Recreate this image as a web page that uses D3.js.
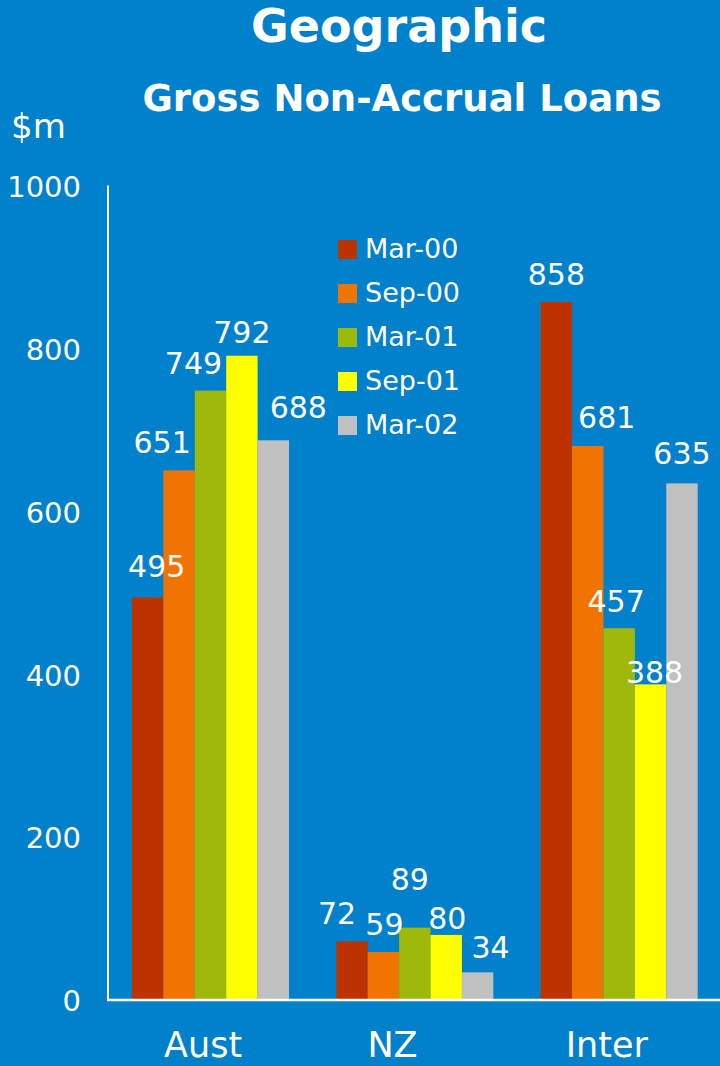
<!DOCTYPE html>
<html>
<head>
<meta charset="utf-8">
<script src="https://cdn.jsdelivr.net/npm/d3@7"></script>
<style>
  html, body { margin: 0; padding: 0; background: #0180CC; }
  svg { display: block; }
  text { font-family: "DejaVu Sans", Verdana, sans-serif; fill: #ffffff; }
</style>
</head>
<body>
<svg id="chart" width="720" height="1066"></svg>
<script>
// Gross non-accrual loans by region ($m)
const regions = ["Aust", "NZ", "Inter"];
const periods = ["Mar-00", "Sep-00", "Mar-01", "Sep-01", "Mar-02"];
const mar00 = [495, 72, 858];
const sep00 = [651, 59, 681];
const mar01 = [749, 89, 457];
const sep01 = [792, 80, 388];
const mar02 = [688, 34, 635];
const yTicks = [0, 200, 400, 600, 800, 1000];

const seriesValues = [mar00, sep00, mar01, sep01, mar02];
const colors = ["#BD3300", "#F27400", "#9EB80C", "#FFFF00", "#C0C0C0"];

// hand-placed value label offsets [dx, lift above bar top], by period then region
const labelNudge = [
  [[9, 20], [-15, 17], [0, 17]],
  [[-17, 17], [1, 17], [19, 18]],
  [[-17, 17], [-5, 38], [-3, 16]],
  [[0, 13], [1, 6], [4, 1]],
  [[25, 22], [13, 14], [0, 19]]
];
const categoryNudge = [-6, -21, -11];

const svg = d3.select("#chart");
const W = 720, H = 1066;
const plotLeft = 108, plotRight = 720, plotTop = 186.5, plotBottom = 1000;

svg.append("rect").attr("width", W).attr("height", H).attr("fill", "#0180CC");

const x0 = d3.scaleBand().domain(regions).range([plotLeft - 1, plotRight]).padding(0);
const x1 = d3.scaleBand().domain(periods).range([25, 182]).padding(0);
const y = d3.scaleLinear().domain([0, 1000]).range([plotBottom, plotTop]);

// titles
svg.append("text").attr("x", 399).attr("y", 42).attr("text-anchor", "middle")
  .attr("font-size", 46).attr("font-weight", "bold").text("Geographic");
svg.append("text").attr("x", 402).attr("y", 111).attr("text-anchor", "middle")
  .attr("font-size", 37).attr("font-weight", "bold").text("Gross Non-Accrual Loans");
svg.append("text").attr("x", 11).attr("y", 138).attr("font-size", 34).text("$m");

// y axis: labels only, plus a plain white line
const yAxis = d3.axisLeft(y).tickValues(yTicks).tickFormat(d3.format("d"))
  .tickSize(0).tickPadding(27);
const gy = svg.append("g").attr("transform", `translate(${plotLeft},0)`).call(yAxis);
gy.select(".domain").remove();
gy.selectAll("text").attr("font-size", 29).attr("fill", "#fff")
  .attr("font-family", "DejaVu Sans, Verdana, sans-serif").attr("dy", "0.36em");
svg.append("line").attr("x1", plotLeft).attr("x2", plotLeft).attr("y1", plotTop - 1).attr("y2", plotBottom)
  .attr("stroke", "#fff").attr("stroke-width", 2);

// bars
const groups = svg.append("g").selectAll("g").data(regions).join("g")
  .attr("transform", d => `translate(${x0(d)},0)`);

groups.each(function (region, ri) {
  const g = d3.select(this);
  periods.forEach((p, pi) => {
    const v = seriesValues[pi][ri];
    g.append("rect")
      .attr("x", x1(p)).attr("width", x1.bandwidth())
      .attr("y", y(v)).attr("height", y(0) - y(v))
      .attr("fill", colors[pi]);
  });
});

// x axis baseline
svg.append("line").attr("x1", plotLeft - 1).attr("x2", plotRight).attr("y1", plotBottom).attr("y2", plotBottom)
  .attr("stroke", "#fff").attr("stroke-width", 2.5);

// value labels
groups.each(function (region, ri) {
  const g = d3.select(this);
  periods.forEach((p, pi) => {
    const v = seriesValues[pi][ri];
    const [dx, lift] = labelNudge[pi][ri];
    g.append("text")
      .attr("x", x1(p) + x1.bandwidth() / 2 + dx)
      .attr("y", y(v) - lift)
      .attr("text-anchor", "middle").attr("font-size", 30)
      .text(v);
  });
});

// category labels
const xAxis = d3.axisBottom(x0).tickSize(0).tickPadding(0);
const gx = svg.append("g").attr("transform", `translate(0,${plotBottom})`).call(xAxis);
gx.select(".domain").remove();
gx.selectAll("text")
  .attr("font-size", 35).attr("fill", "#fff")
  .attr("font-family", "DejaVu Sans, Verdana, sans-serif")
  .attr("dy", null).attr("y", 57)
  .attr("x", (d, i) => categoryNudge[i]);

// legend
const legend = svg.append("g").attr("transform", "translate(338,240)");
periods.forEach((p, i) => {
  const row = legend.append("g").attr("transform", `translate(0,${i * 44})`);
  row.append("rect").attr("width", 19).attr("height", 19).attr("fill", colors[i]);
  row.append("text").attr("x", 27).attr("y", 18).attr("font-size", 27).text(p);
});
</script>
</body>
</html>
